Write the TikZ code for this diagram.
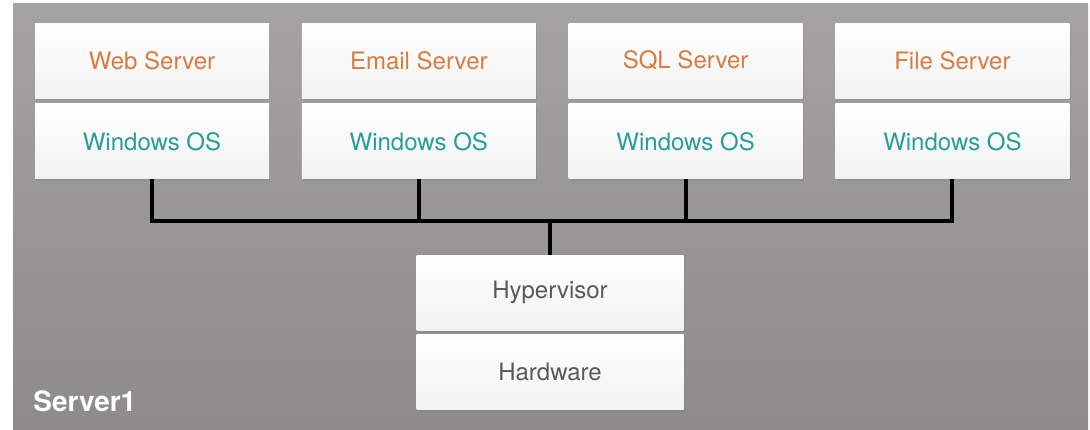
\documentclass[tikz,border=0pt]{standalone}
\usepackage{fontspec}
\setmainfont{TeX Gyre Heros}
\usetikzlibrary{positioning, shadows}

\definecolor{appcol}{HTML}{D97B40}
\definecolor{oscol}{HTML}{279E9A}
\definecolor{bgtop}{HTML}{A4A2A3}
\definecolor{bgbot}{HTML}{8D8B8C}

\begin{document}
\begin{tikzpicture}[x=0.5pt, y=-0.5pt, node distance=2.5pt and 16pt,
    layer/.style={rectangle, minimum width=117pt, minimum height=37.5pt, inner sep=0pt,
        top color=white, bottom color=black!5, font=\fontsize{12}{14}\selectfont,
        drop shadow={shadow xshift=0.6pt, shadow yshift=-1pt, opacity=0.35}},
    app/.style={layer, text=appcol},
    os/.style={layer, text=oscol},
    base/.style={layer, minimum width=133.5pt, text=black!65},
    link/.style={line width=2pt, line join=miter}]
    \useasboundingbox (0,0) rectangle (1090,429);
    \shade[top color=bgtop, bottom color=bgbot] (13,3) rectangle (1088,429);

    \node[app] (web) at (152,60.5) {Web Server};
    \node[app, right=of web] (mail) {Email Server};
    \node[app, right=of mail] (sql) {SQL Server};
    \node[app, right=of sql] (file) {File Server};

    \node[os, below=of web] (webos) {Windows OS};
    \node[os, below=of mail] (mailos) {Windows OS};
    \node[os, below=of sql] (sqlos) {Windows OS};
    \node[os, below=of file] (fileos) {Windows OS};

    \node[base] (hyp) at (550,292.5) {Hypervisor};
    \node[base, below=2pt of hyp] (hw) {Hardware};

    \node[anchor=base west, inner sep=0pt, text=white,
        font=\fontsize{14}{16}\selectfont\bfseries] (srv) at (33,411) {Server1};

    \coordinate[above=17pt of hyp.north] (bus);

    \draw[link] (webos.south) |- (bus);
    \draw[link] (mailos.south) |- (bus);
    \draw[link] (sqlos.south) |- (bus);
    \draw[link] (fileos.south) |- (bus);
    \draw[link] (bus) -- (hyp.north);
\end{tikzpicture}
\end{document}
